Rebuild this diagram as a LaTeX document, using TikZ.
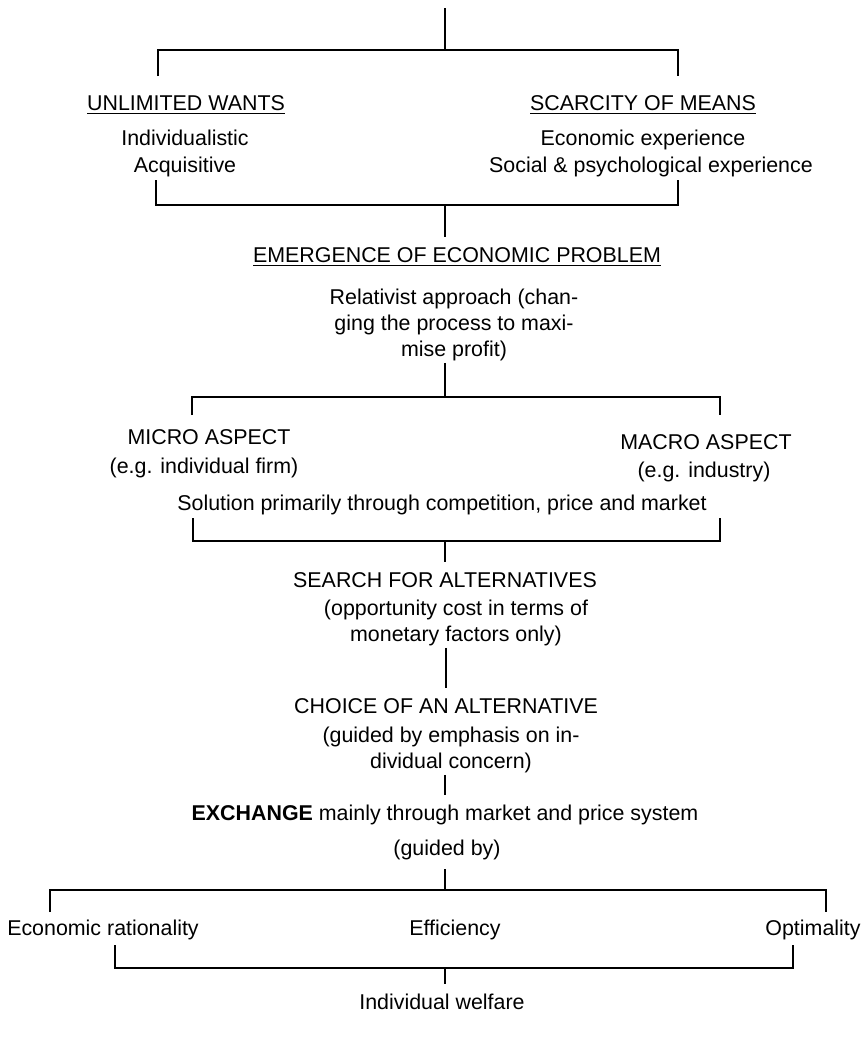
\documentclass[tikz,border=0pt]{standalone}
\usepackage{fontspec}
\setmainfont{Liberation Sans}
\tikzstyle{txt} = [inner sep=0pt, outer sep=5pt, align=center, font=\fontsize{10.7}{13}\selectfont]
\tikzstyle{para} = [txt, outer sep=1pt]
\tikzstyle{link} = [line width=0.9pt]
\begin{document}
\begin{tikzpicture}[x=0.5pt, y=-0.5pt]
\useasboundingbox (0,0) rectangle (867,1045);
% wants and means
\node[txt, anchor=base] (wants) at (186,110) {\underline{UNLIMITED WANTS}};
\node[txt, anchor=base] (indiv) at (185,145) {Individualistic};
\node[txt, anchor=base] (acqu) at (185,172) {Acquisitive};
\node[txt, anchor=base] (means) at (643,110) {\underline{SCARCITY OF MEANS}};
\node[txt, anchor=base] (econ) at (643,145) {Economic experience};
\node[txt, anchor=base] (social) at (651,172) {Social \& psychological experience};
\coordinate (top) at (445,8);
\coordinate (j1) at (445,50);
\coordinate (w0) at (158,76);
\coordinate (m0) at (678,76);
\draw[link] (top) -- (j1);
\draw[link] (w0) |- (j1) -| (m0);
\coordinate (w1) at (156,180);
\coordinate (m1) at (678,180);
\coordinate (j2) at (445,205);
\draw[link] (w1) |- (j2) -| (m1);
% problem
\node[txt, anchor=base] (prob) at (457,262) {\underline{EMERGENCE OF ECONOMIC PROBLEM}};
\draw[link] (j2) -- (j2 |- prob.north);
\node[para] (relat) at (454,325) {Relativist approach (chan-\\ging the process to maxi-\\mise profit)};
\coordinate (j3) at (445,397);
\draw[link] (relat.south -| j3) -- (j3);
% micro and macro
\node[txt, anchor=base] (micro) at (209,444) {MICRO ASPECT};
\node[txt, anchor=base] (firm) at (204,473) {(e.g. individual firm)};
\node[txt, anchor=base] (macro) at (706,449) {MACRO ASPECT};
\node[txt, anchor=base] (indus) at (704,477) {(e.g. industry)};
\coordinate (mi0) at (192,415);
\coordinate (ma0) at (720,415);
\draw[link] (mi0) |- (j3) -| (ma0);
\node[txt, anchor=base] (sol) at (442,510) {Solution primarily through competition, price and market};
\coordinate (mi1) at (193,518);
\coordinate (ma1) at (720,518);
\coordinate (j4) at (445,541);
\draw[link] (mi1) |- (j4) -| (ma1);
% alternatives
\node[txt, anchor=base] (search) at (445,587) {SEARCH FOR ALTERNATIVES};
\draw[link] (j4) -- (search);
\node[para] (oppor) at (456,623) {(opportunity cost in terms of\\monetary factors only)};
\node[txt, anchor=base] (choice) at (446,713) {CHOICE OF AN ALTERNATIVE};
\draw[link] (oppor.south -| choice) -- (choice);
\node[para] (emph) at (451,750) {(guided by emphasis on in-\\dividual concern)};
\node[txt, anchor=base] (exch) at (445,820) {\textbf{EXCHANGE} mainly through market and price system};
\draw[link] (emph.south -| exch) -- (exch);
\node[txt, anchor=base] (guided) at (447,855) {(guided by)};
% criteria
\coordinate (j5) at (445,890);
\draw[link] (guided.south -| j5) -- (j5);
\node[txt, anchor=base] (ratio) at (103,935) {Economic rationality};
\node[txt, anchor=base] (effic) at (455,935) {Efficiency};
\node[txt, anchor=base] (optim) at (813,935) {Optimality};
\coordinate (r0) at (50,912);
\coordinate (o0) at (826,912);
\draw[link] (r0) |- (j5) -| (o0);
\coordinate (r1) at (115,945);
\coordinate (o1) at (793,945);
\coordinate (j6) at (445,968);
\draw[link] (r1) |- (j6) -| (o1);
\node[txt, anchor=base] (welfare) at (442,1009) {Individual welfare};
\draw[link] (j6) -- (j6 |- welfare.north);
\end{tikzpicture}
\end{document}
